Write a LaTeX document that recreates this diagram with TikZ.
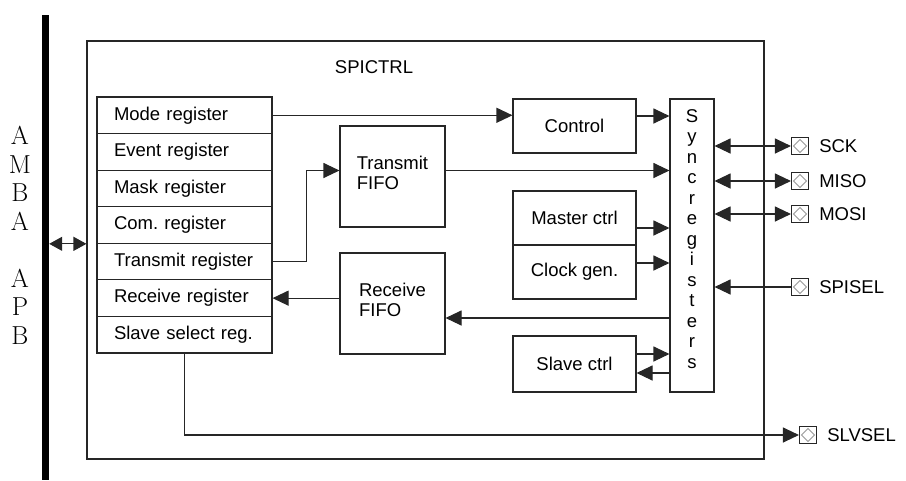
\documentclass[tikz,border=0pt]{standalone}
\usepackage{fontspec}
\setsansfont{Liberation Sans}
\usetikzlibrary{arrows.meta,positioning}

\begin{document}
\begin{tikzpicture}[x=1pt, y=-1pt,
    every node/.style={
        rectangle,
        inner sep=0pt,
        font=\sffamily\fontsize{18.5}{20.5}\selectfont
    },
    box/.style={draw=black!85, line width=1.1pt},
    regbox/.style={box, minimum width=175pt, minimum height=36.57pt, text width=141pt, inner xsep=17pt, align=left},
    blockbox/.style={box, minimum width=123pt},
    fifobox/.style={box, minimum width=105pt, minimum height=101pt, align=left, text depth=8pt, font=\sffamily\fontsize{18.5}{20}\selectfont},
    padbox/.style={box, minimum size=17pt, path picture={
        \draw[black!40, line width=0.8pt] ([yshift=-2pt]path picture bounding box.north) -- ([xshift=-2pt]path picture bounding box.east)
            -- ([yshift=2pt]path picture bounding box.south) -- ([xshift=2pt]path picture bounding box.west) -- cycle;
    }},
    wire/.style={draw=black!85, line width=1.1pt, -{Triangle[length=16pt, width=15pt]}},
    biwire/.style={wire, {Triangle[length=16pt, width=15pt]}-{Triangle[length=16pt, width=15pt]}},
    buswire/.style={wire, {Triangle[length=13pt, width=14pt]}-{Triangle[length=13pt, width=14pt]}}
]
    \useasboundingbox (0, 0) rectangle (906, 480);

    % bus and outer block
    \node (amba_bus) [fill=black, minimum width=7pt, minimum height=465pt, shift={(45.5, 247.5)}] {};
    \node (amba_label) [align=center, font=\rmfamily\fontsize{26}{28.5}\selectfont, shift={(20, 235.5)}]
    {
        A\\M\\B\\A\\[28.5pt]A\\P\\B
    };

    \node (spictrl) [box, minimum width=677pt, minimum height=418pt, shift={(425.5, 250)}] {};
    \node (spictrl_label) [shift={(374, 67)}]
    {
        SPICTRL
    };



    \node (mode_register) [regbox, shift={(184.5, 115.29)}]
    {
        Mode register
    };
    \node (event_register) [regbox, shift={(184.5, 151.86)}]
    {
        Event register
    };
    \node (mask_register) [regbox, shift={(184.5, 188.43)}]
    {
        Mask register
    };
    \node (com_register) [regbox, shift={(184.5, 225)}]
    {
        Com.\ register
    };
    \node (transmit_register) [regbox, shift={(184.5, 261.57)}]
    {
        Transmit register
    };
    \node (receive_register) [regbox, shift={(184.5, 298.14)}]
    {
        Receive register
    };
    \node (slave_select_register) [regbox, shift={(184.5, 334.71)}]
    {
        Slave select reg.
    };



    \node (transmit_fifo) [fifobox, shift={(392.5, 176.5)}]
    {
        Transmit\\FIFO
    };
    \node (receive_fifo) [fifobox, shift={(392.5, 303.5)}]
    {
        Receive\\FIFO
    };



    \node (control) [blockbox, minimum height=54pt, shift={(574.5, 126)}]
    {
        Control
    };
    \node (master_ctrl) [blockbox, minimum height=54pt, shift={(574.5, 218)}]
    {
        Master ctrl
    };
    \node (clock_gen) [blockbox, minimum height=54pt, shift={(574.5, 272)}]
    {
        Clock gen.
    };
    \node (slave_ctrl) [blockbox, minimum height=56pt, shift={(574.5, 364)}]
    {
        Slave ctrl
    };

    \node (sync_registers) [box, minimum width=44pt, minimum height=293pt, align=center, text depth=13pt, shift={(692, 245.5)}]
    {
        S\\y\\n\\c\\r\\e\\g\\i\\s\\t\\e\\r\\s
    };



    \node (sck) [padbox, shift={(800, 146)}] {};
    \node (miso) [padbox, shift={(800, 181)}] {};
    \node (mosi) [padbox, shift={(800, 214)}] {};
    \node (spisel) [padbox, shift={(800, 287)}] {};
    \node (slvsel) [padbox, shift={(808, 435)}] {};

    \node (sck_label) [right=10pt of sck] {SCK};
    \node (miso_label) [right=10pt of miso] {MISO};
    \node (mosi_label) [right=10pt of mosi] {MOSI};
    \node (spisel_label) [right=10pt of spisel] {SPISEL};
    \node (slvsel_label) [right=10pt of slvsel] {SLVSEL};



    \draw[buswire] (com_register.south -| amba_bus.east) to (com_register.south -| spictrl.west);

    \draw[wire] (mode_register.east) to (mode_register.east -| control.west);
    \draw[wire] ([yshift=10pt]control.east) to ([yshift=10pt]control.east -| sync_registers.west);
    \draw[wire] (transmit_register.east) -- ++(34, 0) |- ([yshift=6pt]transmit_fifo.west);
    \draw[wire] ([yshift=6pt]transmit_fifo.east) to ([yshift=6pt]transmit_fifo.east -| sync_registers.west);
    \draw[wire] ([yshift=-10pt]master_ctrl.east) to ([yshift=-10pt]master_ctrl.east -| sync_registers.west);
    \draw[wire] ([yshift=9pt]clock_gen.east) to ([yshift=9pt]clock_gen.east -| sync_registers.west);
    \draw[wire] ([yshift=-14.5pt]receive_fifo.east -| sync_registers.west) to ([yshift=-14.5pt]receive_fifo.east);
    \draw[wire] (receive_register.east -| receive_fifo.west) to (receive_register.east);
    \draw[wire] ([yshift=10pt]slave_ctrl.east) to ([yshift=10pt]slave_ctrl.east -| sync_registers.west);
    \draw[wire] ([yshift=-9pt]slave_ctrl.east -| sync_registers.west) to ([yshift=-9pt]slave_ctrl.east);

    \draw[biwire] (sck -| sync_registers.east) to (sck.west);
    \draw[biwire] (miso -| sync_registers.east) to (miso.west);
    \draw[biwire] (mosi -| sync_registers.east) to (mosi.west);
    \draw[wire] (spisel.west) to (spisel -| sync_registers.east);
    \draw[wire] (slave_select_register.south) |- (slvsel.west);


\end{tikzpicture}
\end{document}
